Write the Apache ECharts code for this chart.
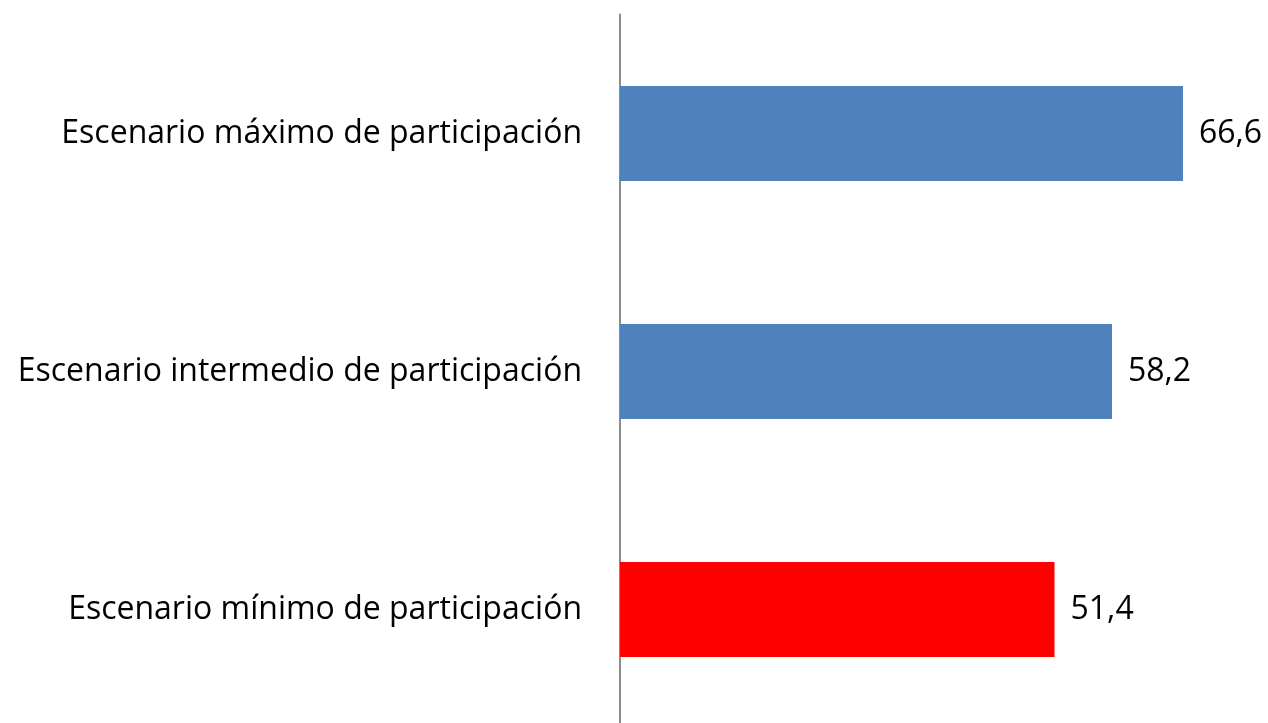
<!DOCTYPE html>
<html><head><meta charset="utf-8">
<script src="https://cdn.jsdelivr.net/npm/echarts@6/dist/echarts.min.js"></script>
<style>html,body{margin:0;padding:0;background:#fff;overflow:hidden}#c{width:1268px;height:740px}</style>
</head><body><div id="c"></div>
<script>
const categories = ["Escenario mínimo de participación", "Escenario intermedio de participación", "Escenario máximo de participación"];
const values = [51.4, 58.2, 66.6];
const colors = ["#FF0000", "#4F81BD", "#4F81BD"];
const FONT = "'Open Sans', sans-serif";
const chart = echarts.init(document.getElementById('c'));
chart.setOption({
  animation: false,
  grid: {left: 620, top: 14.5, width: 634, height: 714, containLabel: false},
  xAxis: {type: 'value', min: 0, max: 75, show: false},
  yAxis: {
    type: 'category', data: categories,
    axisLine: {show: true, lineStyle: {color: '#8c8c8c', width: 2}},
    axisTick: {show: false},
    axisLabel: {fontFamily: FONT, fontSize: 32, color: '#000', margin: 38}
  },
  series: [{
    type: 'bar', barCategoryGap: '60%',
    data: values.map((v, i) => ({value: v, itemStyle: {color: colors[i]}})),
    label: {show: true, position: 'right', distance: 16, fontFamily: FONT, fontSize: 32, color: '#000',
      formatter: p => String(p.value).replace('.', ',')}
  }]
});
</script></body></html>
